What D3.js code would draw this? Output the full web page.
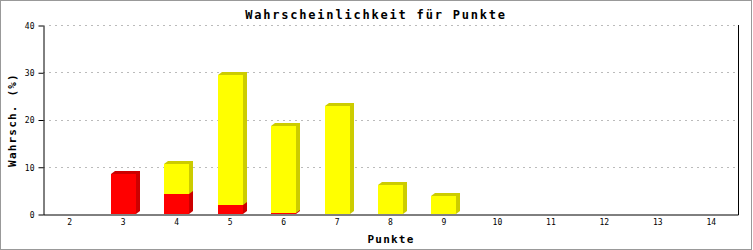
<!DOCTYPE html>
<html>
<head>
<meta charset="utf-8">
<script src="https://cdn.jsdelivr.net/npm/d3@7"></script>
<style>
  html, body { margin: 0; padding: 0; background: #fff; }
  svg { display: block; }
  .tick text { font-family: "DejaVu Sans Mono", monospace; font-size: 8px; fill: #000; }
</style>
</head>
<body>
<div id="chart"></div>
<script>
const categories = ["2", "3", "4", "5", "6", "7", "8", "9", "10", "11", "12", "13", "14"];
// red segment (bottom) and yellow segment (stacked on top), in %
const redValues = [0, 8.5, 4.2, 1.9, 0.2, 0, 0, 0, 0, 0, 0, 0, 0];
const yellowValues = [0, 0, 6.4, 27.5, 18.4, 22.9, 6.1, 3.8, 0, 0, 0, 0, 0];
const yTicks = [0, 10, 20, 30, 40];

const width = 753, height = 250;
const plot = { left: 43, right: 738, top: 25, bottom: 214 };
const depth = 4; // shadow offset of the bars

const svg = d3.select("#chart")
    .append("svg")
    .attr("width", width)
    .attr("height", height);

svg.append("rect")
    .attr("x", 0.5).attr("y", 0.5)
    .attr("width", 751).attr("height", 249)
    .attr("fill", "#fff")
    .attr("stroke", "#999");

const x = d3.scaleBand()
    .domain(categories)
    .range([plot.left, plot.right]);

const y = d3.scaleLinear()
    .domain([0, 40])
    .range([plot.bottom, plot.top]);

// dashed grid lines
svg.append("g")
    .selectAll("line")
    .data(yTicks.filter(d => d > 0))
    .enter()
    .append("line")
    .attr("x1", plot.left)
    .attr("x2", plot.right)
    .attr("y1", d => Math.round(y(d)) + 0.5)
    .attr("y2", d => Math.round(y(d)) + 0.5)
    .attr("stroke", "#bbb")
    .attr("stroke-dasharray", "2,4");

// stacked segments
const segments = [];
categories.forEach((c, i) => {
    segments.push({ cat: c, y0: 0, y1: redValues[i], fill: "#ff0000", shade: "#cc0000" });
    segments.push({ cat: c, y0: redValues[i], y1: redValues[i] + yellowValues[i], fill: "#ffff00", shade: "#cccc00" });
});

const barW = Math.round(x.bandwidth() * 0.47);

const bars = svg.append("g")
    .selectAll("g")
    .data(segments.filter(d => d.y1 > d.y0))
    .enter()
    .append("g");

function barLeft(d) {
    return Math.round(x(d.cat) + (x.bandwidth() - barW) / 2);
}

bars.append("polygon")
    .attr("fill", d => d.shade)
    .attr("points", d => {
        const x0 = barLeft(d), x1 = x0 + barW;
        const top = Math.round(y(d.y1)), bot = Math.round(y(d.y0));
        return [[x0, top], [x0 + depth, top - depth + 1], [x1 + depth, top - depth + 1],
                [x1 + depth, bot - depth + 1], [x1, bot]].map(p => p.join(",")).join(" ");
    });

bars.append("rect")
    .attr("fill", d => d.fill)
    .attr("x", d => barLeft(d))
    .attr("y", d => Math.round(y(d.y1)))
    .attr("width", barW)
    .attr("height", d => Math.max(1, Math.round(y(d.y0)) - Math.round(y(d.y1))));

// axes
const yAxis = svg.append("g")
    .attr("transform", `translate(${plot.left + 0.5},0.5)`)
    .call(d3.axisLeft(y).tickValues(yTicks).tickSize(5).tickSizeOuter(0).tickPadding(4));

const xAxis = svg.append("g")
    .attr("transform", `translate(0,${plot.bottom + 0.5})`)
    .call(d3.axisBottom(x).tickSize(0).tickSizeOuter(0).tickPadding(5));

svg.selectAll(".domain").attr("stroke", "#000");
svg.selectAll(".tick line").attr("stroke", "#000");
yAxis.selectAll(".tick text").attr("dy", "0.35em");

svg.append("line")
    .attr("x1", plot.right + 0.5).attr("x2", plot.right + 0.5)
    .attr("y1", plot.top).attr("y2", plot.bottom + 1)
    .attr("stroke", "#000");

// titles
svg.append("text")
    .attr("x", 376)
    .attr("y", 19)
    .attr("text-anchor", "middle")
    .style("font-family", "DejaVu Sans Mono, monospace")
    .style("font-weight", "bold")
    .style("font-size", "12px")
    .style("letter-spacing", "1.8px")
    .text("Wahrscheinlichkeit für Punkte");

svg.append("text")
    .attr("x", 391)
    .attr("y", 243)
    .attr("text-anchor", "middle")
    .style("font-family", "DejaVu Sans Mono, monospace")
    .style("font-weight", "bold")
    .style("font-size", "11px")
    .style("letter-spacing", "1.2px")
    .text("Punkte");

svg.append("text")
    .attr("transform", "translate(16,120) rotate(-90)")
    .attr("text-anchor", "middle")
    .style("font-family", "DejaVu Sans Mono, monospace")
    .style("font-weight", "bold")
    .style("font-size", "11px")
    .style("letter-spacing", "1.2px")
    .text("Wahrsch. (%)");
</script>
</body>
</html>
